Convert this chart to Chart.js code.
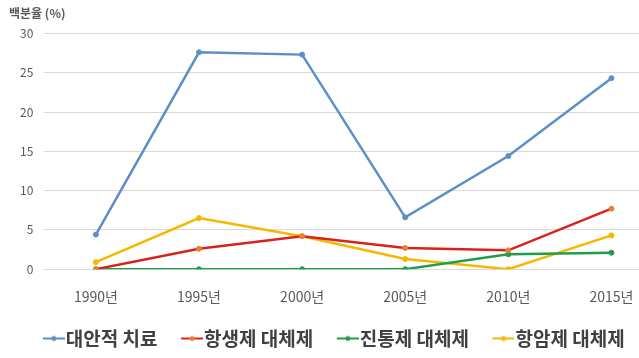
<!DOCTYPE html>
<html>
<head>
<meta charset="utf-8">
<script src="https://cdn.jsdelivr.net/npm/chart.js@4.4.0/dist/chart.umd.min.js"></script>
<style>
  html, body { margin: 0; padding: 0; background: #fff; }
  #wrap { width: 639px; height: 358px; overflow: hidden; position: relative; }
  #box { width: 668px; height: 358px; }
</style>
</head>
<body>
<div id="wrap"><div id="box"><canvas id="chartLine"></canvas></div></div>
<script>
const years = ['1990년', '1995년', '2000년', '2005년', '2010년', '2015년'];
const altTherapy = [4.4, 27.6, 27.3, 6.6, 14.4, 24.3];
const antibioticAlt = [0, 2.6, 4.2, 2.7, 2.4, 7.7];
const analgesicAlt = [0, 0, 0, 0, 1.9, 2.1];
const anticancerAlt = [0.9, 6.5, 4.2, 1.3, 0, 4.3];
const yTicks = [0, 5, 10, 15, 20, 25, 30];

const fontKr = "'Noto Sans CJK KR', 'Noto Sans', sans-serif";

// legend marker: short line with a dot, drawn in the right part of a wider image
function legendMark(lineColor, dotColor) {
  let c = document.createElement('canvas');
  c.width = 41; c.height = 8;
  let g = c.getContext('2d');
  g.strokeStyle = lineColor;
  g.lineWidth = 2;
  g.beginPath(); g.moveTo(19, 4); g.lineTo(41, 4); g.stroke();
  g.fillStyle = dotColor;
  g.beginPath(); g.arc(30, 4, 2.5, 0, Math.PI * 2); g.fill();
  return c;
}

function series(label, values, line, dot) {
  return {
    label: label,
    data: values,
    borderColor: line,
    backgroundColor: dot,
    pointBackgroundColor: dot,
    pointBorderColor: dot,
    pointRadius: 2.5,
    pointBorderWidth: 1,
    borderWidth: 2.5,
    tension: 0,
    legendMark: legendMark(line, dot)
  };
}

// nudge the legend a bit to the left
const legendShift = {
  id: 'legendShift',
  afterLayout(chart) {
    chart.legend.left -= 8;
    chart.legend.right -= 8;
  }
};

let data = {
  labels: years,
  datasets: [
    series('대안적 치료', altTherapy, '#5b8fc9', '#5b8fc9'),
    series('항생제 대체제', antibioticAlt, '#d9221c', '#ed7d31'),
    series('진통제 대체제', analgesicAlt, '#1e9e4a', '#1e9e4a'),
    series('항암제 대체제', anticancerAlt, '#f5b800', '#f5b800')
  ]
};

let config = {
  type: 'line',
  data: data,
  plugins: [legendShift],
  options: {
    responsive: true,
    maintainAspectRatio: false,
    animation: false,
    layout: { padding: { left: 9, right: 4, top: 0, bottom: 0 } },
    plugins: {
      title: {
        display: true,
        text: '백분율 (%)',
        align: 'start',
        color: '#595959',
        font: { family: fontKr, size: 12 },
        padding: { top: 6, bottom: 13 }
      },
      legend: {
        position: 'bottom',
        labels: {
          color: '#404040',
          font: { family: fontKr, size: 19, weight: 'bold' },
          usePointStyle: true,
          pointStyleWidth: 24,
          padding: 13,
          generateLabels: (chart) => chart.data.datasets.map((ds, i) => ({
            text: ds.label,
            pointStyle: ds.legendMark,
            fillStyle: ds.borderColor,
            strokeStyle: ds.borderColor,
            lineWidth: 0,
            fontColor: '#404040',
            datasetIndex: i
          }))
        }
      },
      tooltip: { enabled: false }
    },
    scales: {
      x: {
        offset: true,
        grid: { display: false },
        border: { display: false },
        ticks: { color: '#595959', font: { family: fontKr, size: 14 }, padding: 11 }
      },
      y: {
        min: 0,
        max: 30,
        afterBuildTicks: (axis) => { axis.ticks = yTicks.map(v => ({ value: v })); },
        grid: { color: '#d9d9d9', drawTicks: false },
        border: { display: false },
        ticks: { color: '#595959', font: { family: fontKr, size: 12 }, padding: 11 }
      }
    }
  }
};

var ctx = document.getElementById('chartLine').getContext('2d');
var myChart = new Chart(ctx, config);
</script>
</body>
</html>
